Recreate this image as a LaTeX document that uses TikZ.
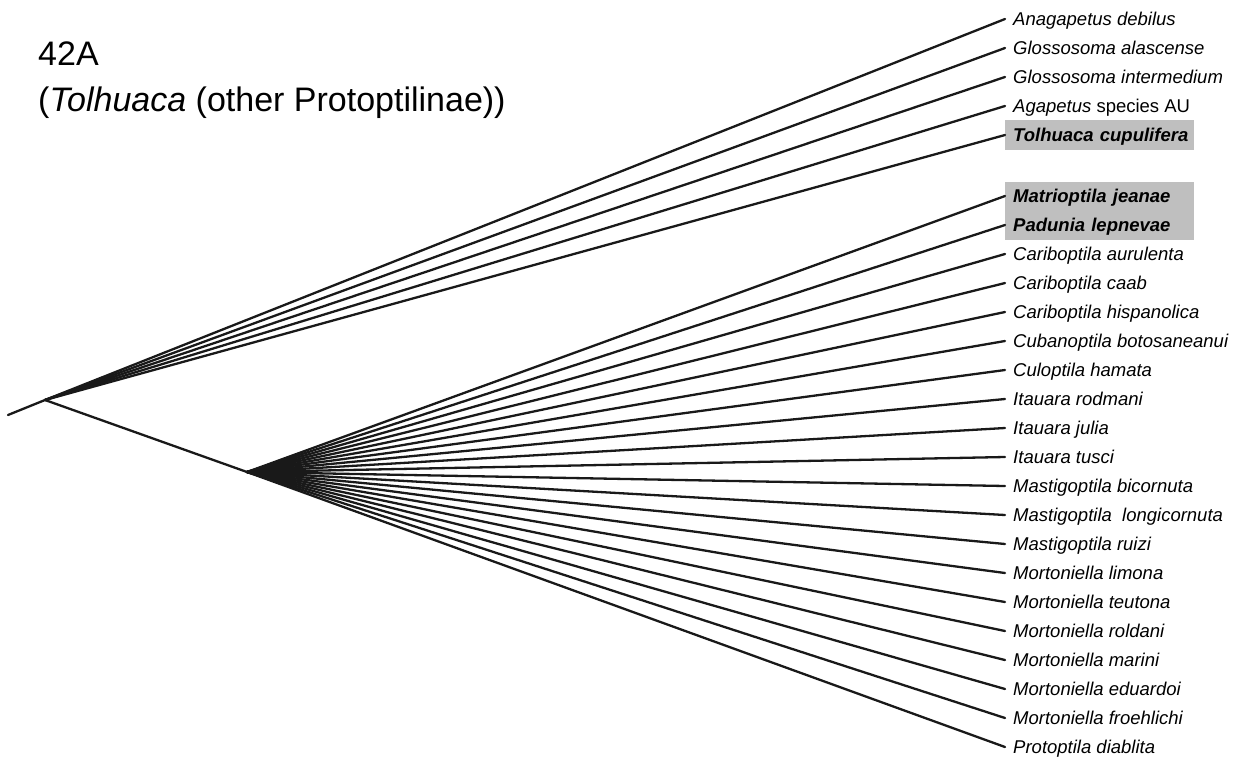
\documentclass[tikz,border=0pt]{standalone}
\usepackage{fontspec}
\setmainfont{Liberation Sans}
\usepackage{tikz}
\usetikzlibrary{positioning}
\definecolor{hlgray}{gray}{0.75}

\begin{document}
\begin{tikzpicture}[
    x=1pt, y=-1pt,
    branch/.style={line width=2.3pt, black!90, line cap=round, line join=round},
    taxon/.style={anchor=west, inner xsep=8pt, inner ysep=0pt, text height=15pt, text depth=2pt,
        font=\fontsize{18.5}{22}\selectfont\itshape},
    hl/.style={taxon, fill=hlgray, text width=173pt, align=left, minimum height=#1},
    heading/.style={anchor=base west, inner sep=0pt, font=\fontsize{34}{40}\selectfont}
]
\useasboundingbox (0,0) rectangle (1239,761);

% Title
\node[heading] (title) at (38,65) {42A};
\node[heading] (subtitle) at (38,111) {(\textit{Tolhuaca} (other Protoptilinae))};

% Internal nodes
\coordinate (root) at (8,415);
\coordinate (n1) at (45,400);
\coordinate (n2) at (247,472);

% Upper clade
\foreach \name [count=\i] in {Anagapetus debilus, Glossosoma alascense, Glossosoma intermedium, {Agapetus \upshape species AU}}
    \node[taxon] (u\i) at (1005,{19+29*(\i-1)}) {\name};
\node[hl=30pt] (u5) at (1005,135) {\mbox{\bfseries Tolhuaca cupulifera}};

% Lower clade
\node[hl=29pt] (l1) at (1005,196) {\mbox{\bfseries Matrioptila jeanae}};
\node[hl=29pt] (l2) at (1005,225) {\mbox{\bfseries Padunia lepnevae}};
\foreach \name [count=\i from 3] in {Cariboptila aurulenta, Cariboptila caab, Cariboptila hispanolica,
    Cubanoptila botosaneanui, Culoptila hamata, Itauara rodmani, Itauara julia, Itauara tusci,
    Mastigoptila bicornuta, Mastigoptila\ \ longicornuta, Mastigoptila ruizi, Mortoniella limona,
    Mortoniella teutona, Mortoniella roldani, Mortoniella marini, Mortoniella eduardoi,
    Mortoniella froehlichi, Protoptila diablita}
    \node[taxon] (l\i) at (1005,{196+29*(\i-1)}) {\name};

% Branches
\draw[branch] (root) -- (n1) -- (n2);
\foreach \i in {1,...,5}
    \draw[branch] (n1) -- (u\i.west);
\foreach \i in {1,...,20}
    \draw[branch] (n2) -- (l\i.west);

\end{tikzpicture}
\end{document}
